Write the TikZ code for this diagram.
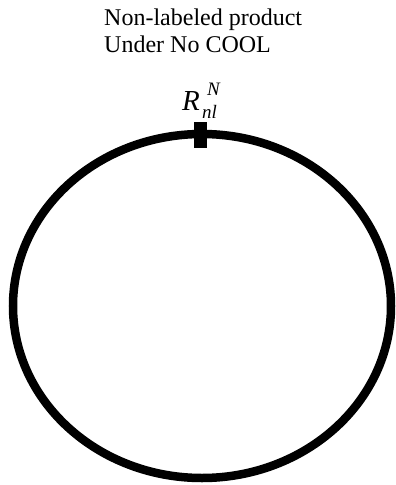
\documentclass[tikz,border=0pt]{standalone}
\usepackage{fontspec}
\setmainfont{Liberation Serif}
\begin{document}
\begin{tikzpicture}[x=1pt,y=-1pt,
  title/.style={anchor=base west,inner sep=0pt,font=\fontsize{24}{27}\selectfont},
  bigit/.style={anchor=base west,inner sep=0pt,font=\fontsize{29}{29}\selectfont\itshape},
  smallit/.style={anchor=base west,inner sep=0pt,font=\fontsize{19}{19}\selectfont\itshape}]
\useasboundingbox (0,0) rectangle (396,485);
\node[title] (t1) at (104,25) {Non-labeled product};
\node[title] (t2) at (104,52) {Under No COOL};
\draw[line width=8.5pt] (202,306) ellipse [x radius=189, y radius=172];
\fill (194,122) rectangle (207,148);
\node[bigit] (r) at (182,110) {R};
\node[smallit] (sup) at (207,95) {N};
\node[smallit] (sub) at (202,118) {nl};
\end{tikzpicture}
\end{document}
